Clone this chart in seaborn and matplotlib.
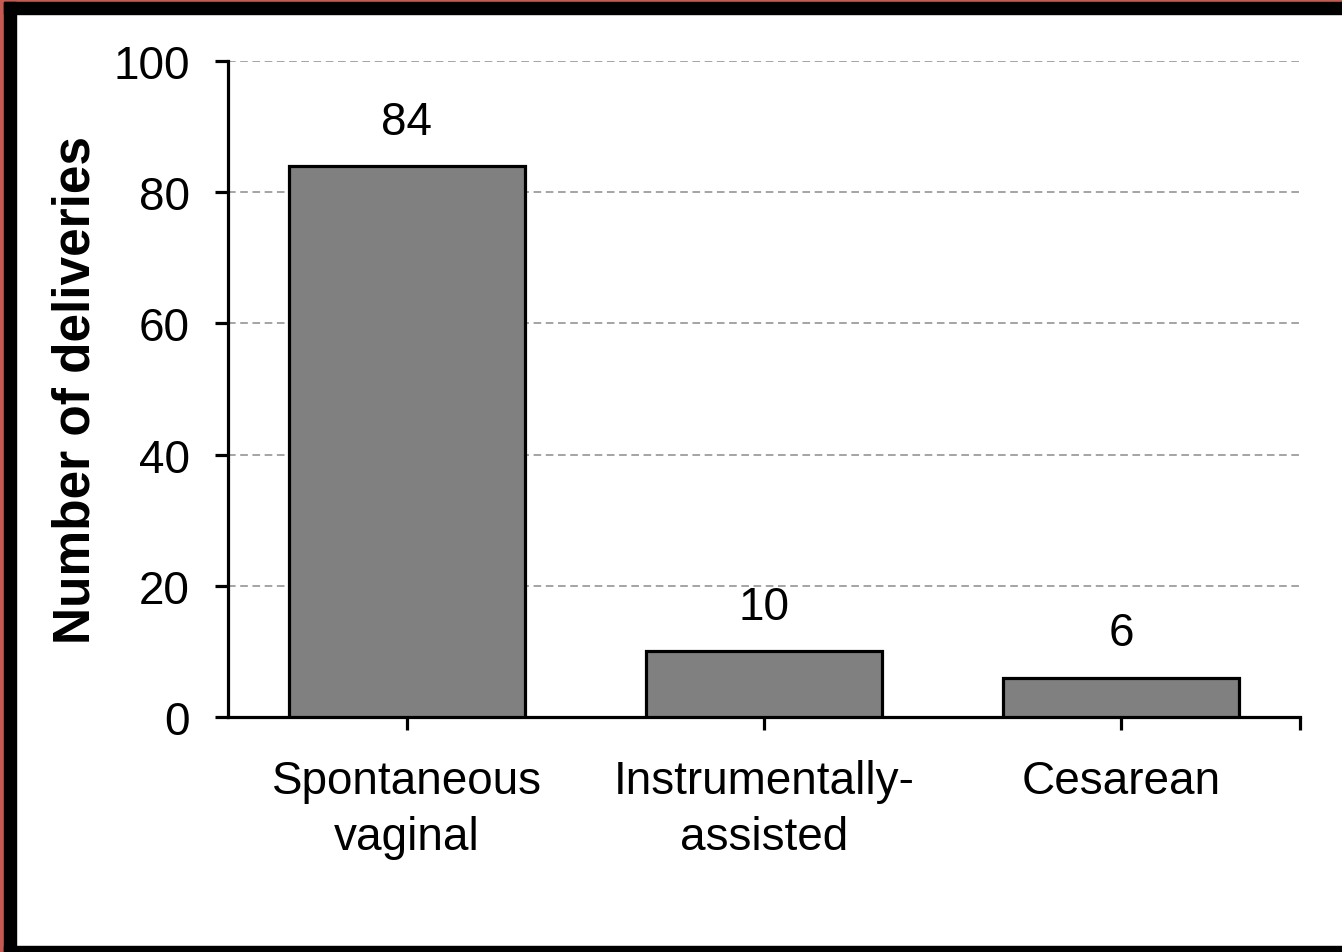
import matplotlib
matplotlib.use('Agg')
import matplotlib.pyplot as plt
from matplotlib.patches import Rectangle
import pandas as pd
import seaborn as sns

# data
categories = ['Spontaneous\nvaginal', 'Instrumentally-\nassisted', 'Cesarean']
deliveries = [84, 10, 6]
y_ticks = [0, 20, 40, 60, 80, 100]

df = pd.DataFrame({'Delivery': categories, 'Count': deliveries})

sns.set_style('white')
plt.rcParams['font.family'] = ['Liberation Sans', 'DejaVu Sans']
plt.rcParams['text.color'] = 'black'
plt.rcParams['axes.labelcolor'] = 'black'
plt.rcParams['xtick.color'] = 'black'
plt.rcParams['ytick.color'] = 'black'

W, H = 1342, 953
fig = plt.figure(figsize=(W / 100, H / 100), dpi=100)
ax = fig.add_axes([228 / W, 1 - 718 / H, (1300 - 228) / W, (718 - 62) / H])

sns.barplot(x='Delivery', y='Count', data=df, color='#808080', saturation=1,
            width=0.66, edgecolor='black', linewidth=2.3, ax=ax, zorder=3)

ax.set_ylim(0, 100)
ax.set_xlim(-0.5, 2.5)
ax.set_yticks(y_ticks)
ax.yaxis.grid(True, linestyle=(0, (5, 3)), color='#8c8c8c', linewidth=1.1, zorder=0)
ax.set_axisbelow(True)

for s in ['top', 'right']:
    ax.spines[s].set_visible(False)
for s in ['left', 'bottom']:
    ax.spines[s].set_linewidth(2.3)
    ax.spines[s].set_color('black')

ax.set_xticks([2.5], minor=True)
ax.tick_params(axis='both', which='both', direction='out', length=9.5, width=2.3,
               color='black', labelcolor='black', labelsize=33, left=True, bottom=True)
ax.tick_params(axis='y', pad=18)
ax.tick_params(axis='x', pad=21)
for lbl in ax.get_xticklabels():
    lbl.set_linespacing(1.35)

ax.bar_label(ax.containers[0], labels=[str(v) for v in deliveries], padding=16,
             fontsize=33, color='black')

ax.set_xlabel('')
ax.set_ylabel('Number of deliveries', fontsize=37, fontweight='bold', labelpad=9)

# frame around the picture
fig.patches.extend([
    Rectangle((0, 0), 4 / W, 1, transform=fig.transFigure, color='#C65A52', zorder=10),
    Rectangle((0, 950 / H), 1, 3 / H, transform=fig.transFigure, color='#C65A52', zorder=10),
    Rectangle((4 / W, 938 / H), 1, 12 / H, transform=fig.transFigure, color='black', zorder=10),
    Rectangle((4 / W, 0), 12 / W, 950 / H, transform=fig.transFigure, color='black', zorder=10),
    Rectangle((4 / W, 0), 1, 6 / H, transform=fig.transFigure, color='black', zorder=10),
])

fig.savefig('out.png', dpi=100, facecolor='white')
